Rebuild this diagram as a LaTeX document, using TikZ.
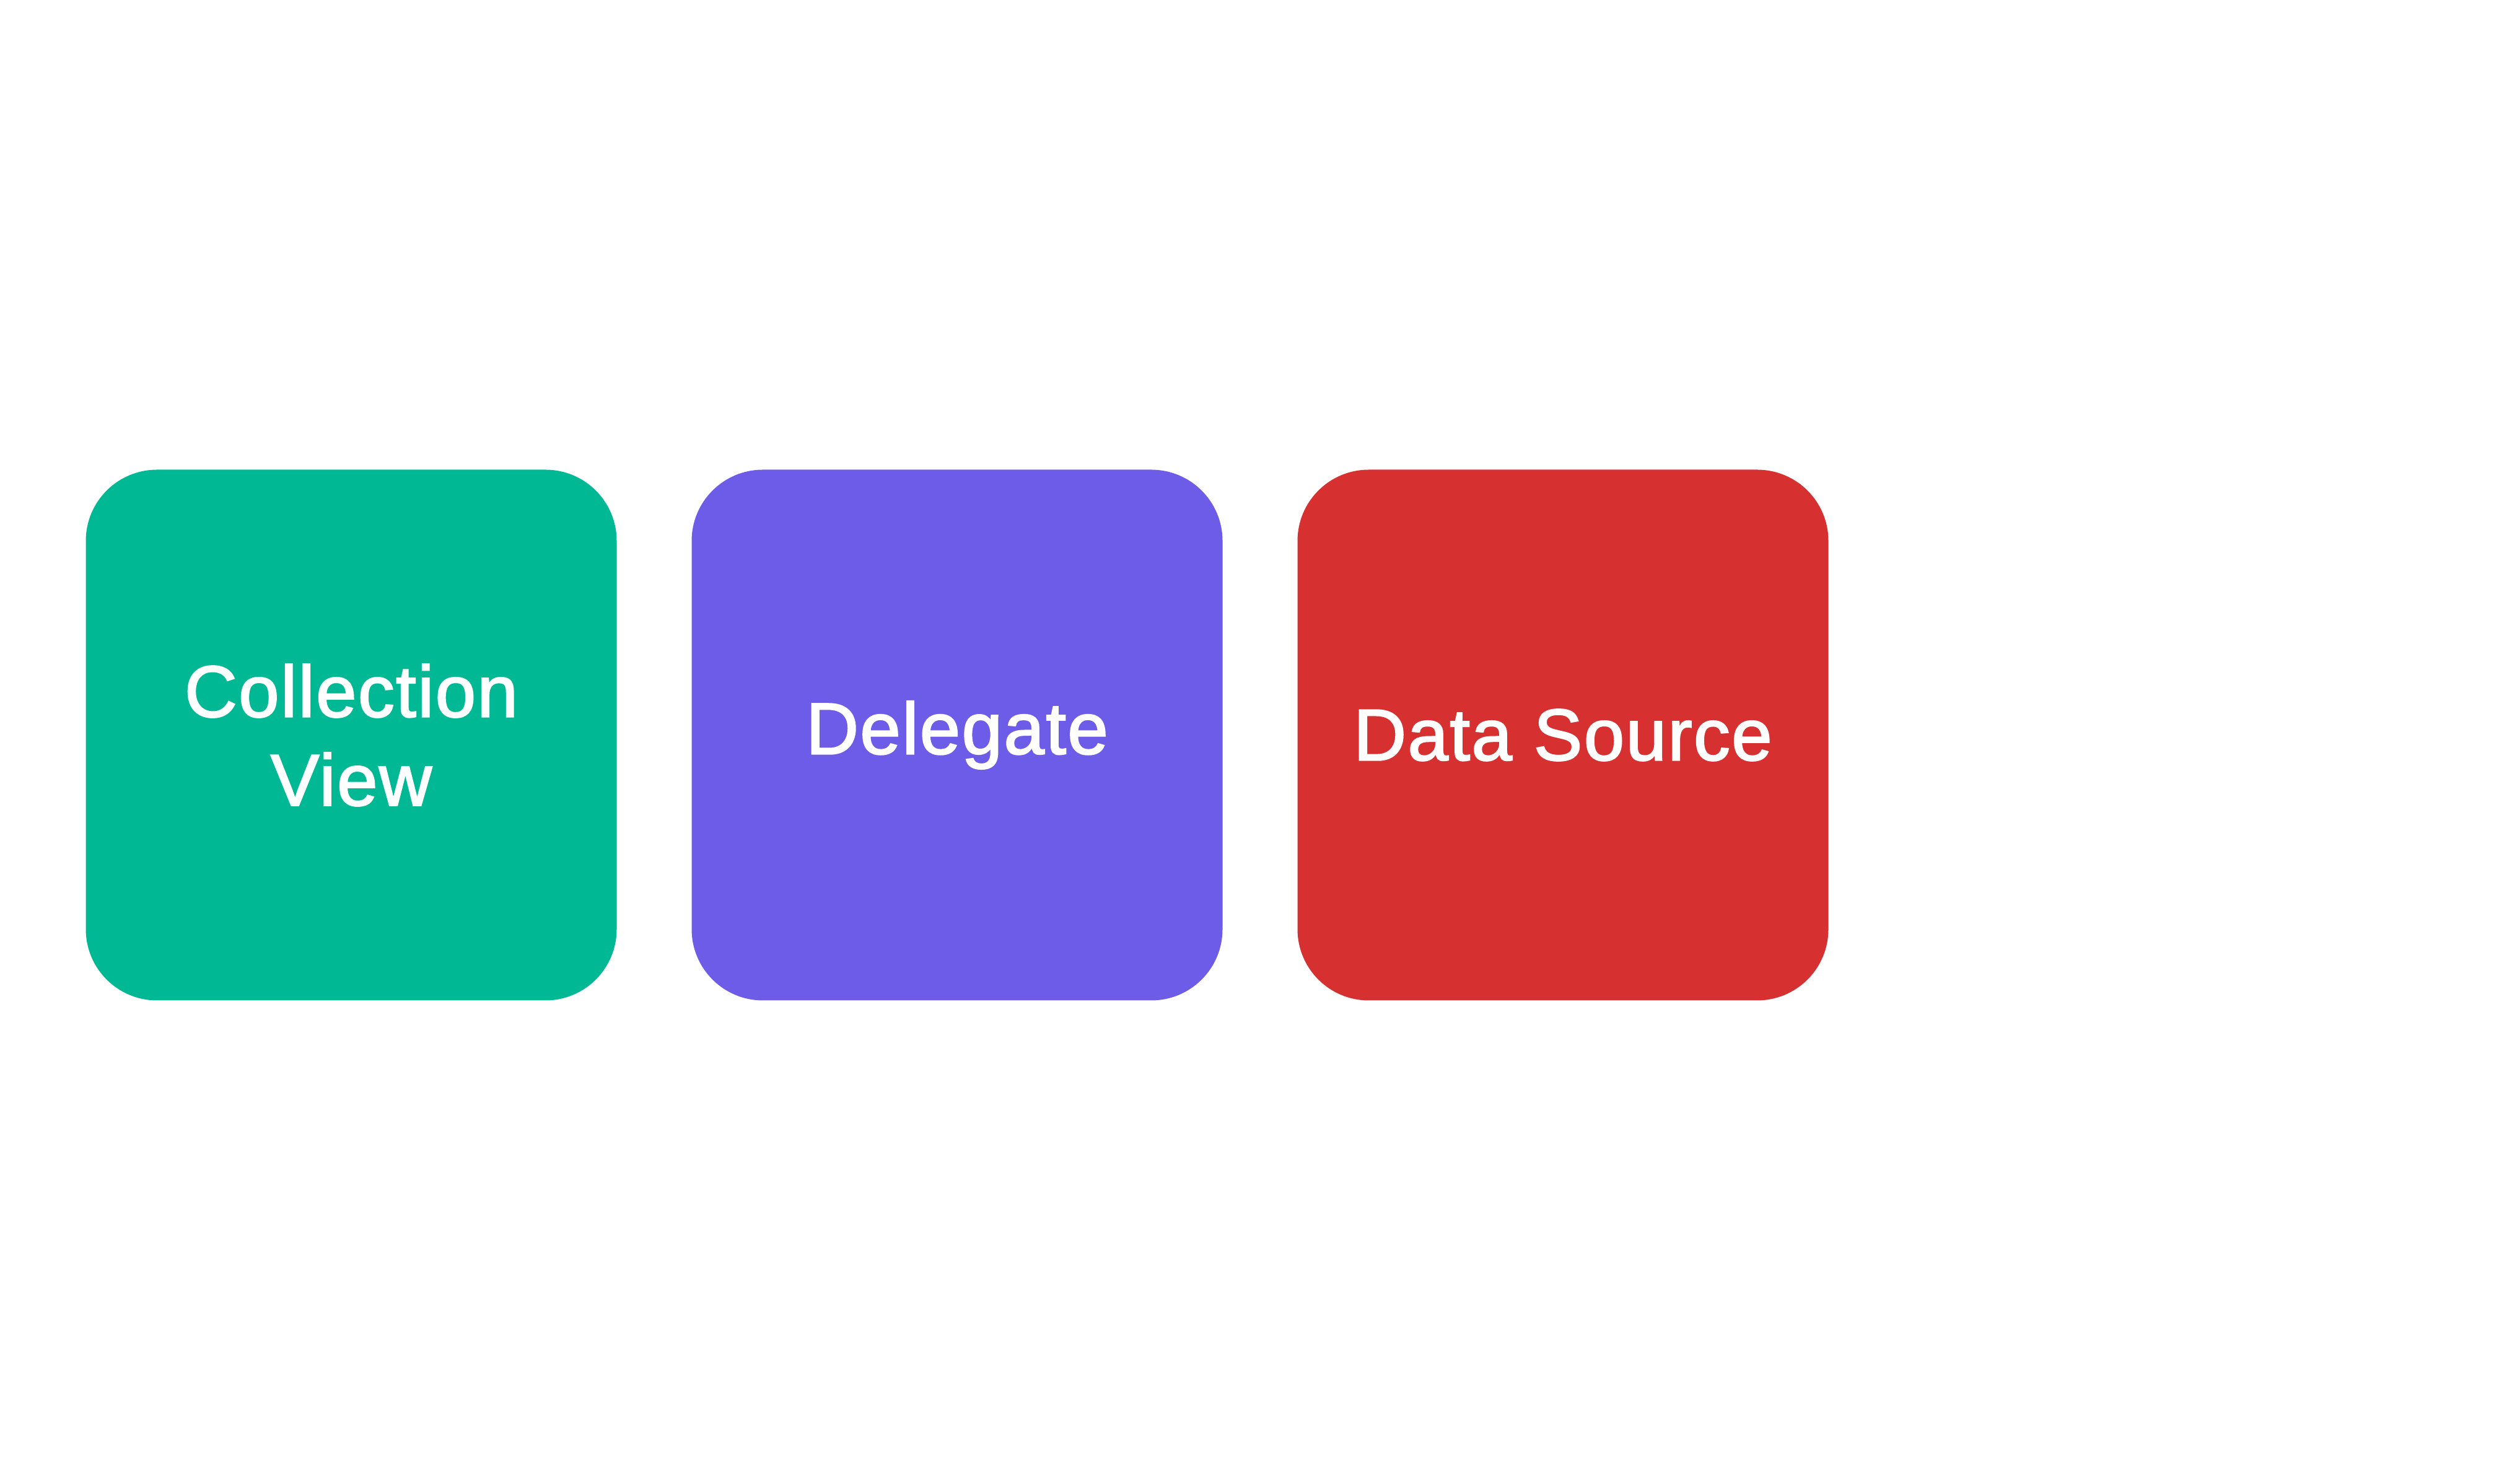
\documentclass[tikz,border=0pt]{standalone}
\usepackage{fontspec}
\setmainfont{Liberation Sans}[FakeBold=2, LetterSpace=2]
\definecolor{cvgreen}{HTML}{00B894}
\definecolor{dgpurple}{HTML}{6C5CE7}
\definecolor{dsred}{HTML}{D63031}
\begin{document}
\begin{tikzpicture}
\useasboundingbox (0,0) rectangle (40.68,23.76);
\tikzset{
  tile/.style={minimum width=8.57cm, minimum height=8.57cm, rounded corners=1.15cm,
    inner sep=0pt, align=center, text=white,
    font=\fontsize{33.5pt}{40.7pt}\selectfont}
}
\node[tile, fill=cvgreen] (cv) at (5.67,11.89) {Collection\\View};
\node[tile, fill=dgpurple] (dg) at (15.45,11.89) {Delegate};
\node[tile, fill=dsred] (ds) at (25.23,11.89) {Data Source};
\end{tikzpicture}
\end{document}
